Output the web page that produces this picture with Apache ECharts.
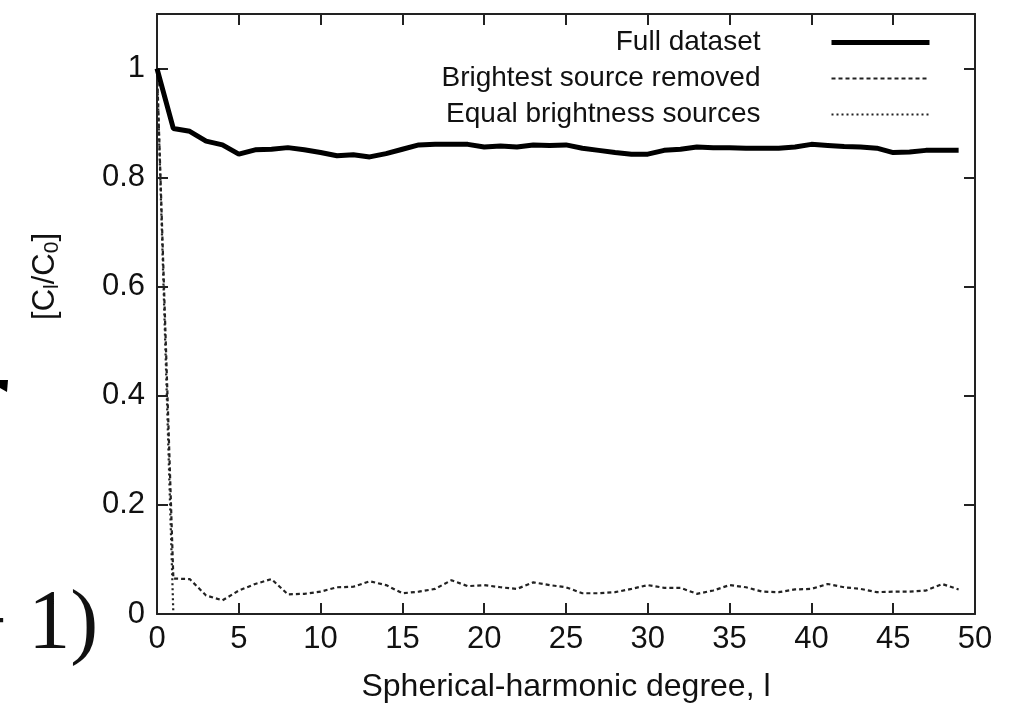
<!DOCTYPE html>
<html>
<head>
<meta charset="utf-8">
<script src="https://cdn.jsdelivr.net/npm/echarts@6/dist/echarts.min.js"></script>
<style>
html,body{margin:0;padding:0;background:#fff;}
#c{width:1019px;height:708px;}
</style>
</head>
<body>
<div id="c"></div>
<script>
var degrees = [0,1,2,3,4,5,6,7,8,9,10,11,12,13,14,15,16,17,18,19,20,21,22,23,24,25,26,27,28,29,30,31,32,33,34,35,36,37,38,39,40,41,42,43,44,45,46,47,48,49];
var fullDataset = [1.0,0.89,0.885,0.867,0.86,0.843,0.851,0.852,0.855,0.851,0.846,0.84,0.842,0.838,0.844,0.852,0.86,0.861,0.861,0.861,0.856,0.858,0.856,0.86,0.859,0.86,0.854,0.85,0.846,0.843,0.843,0.85,0.852,0.856,0.855,0.855,0.854,0.854,0.854,0.856,0.861,0.859,0.857,0.856,0.854,0.846,0.847,0.85,0.85,0.85];
var brightestRemoved = [1.0,0.065,0.064,0.034,0.025,0.043,0.055,0.064,0.036,0.037,0.041,0.049,0.05,0.06,0.053,0.038,0.041,0.046,0.062,0.051,0.053,0.049,0.046,0.058,0.053,0.049,0.038,0.038,0.04,0.046,0.053,0.048,0.048,0.037,0.043,0.053,0.049,0.041,0.04,0.045,0.046,0.055,0.049,0.046,0.04,0.041,0.041,0.043,0.055,0.045];
var equalBrightness = [1.0,0,0,0,0,0,0,0,0,0,0,0,0,0,0,0,0,0,0,0,0,0,0,0,0,0,0,0,0,0,0,0,0,0,0,0,0,0,0,0,0,0,0,0,0,0,0,0,0,0];
var seriesNames = ['Full dataset','Brightest source removed','Equal brightness sources'];
var xTitle = 'Spherical-harmonic degree, l';

function pairs(ys){ return degrees.map(function(d,i){ return [d, ys[i]]; }); }

var FONT = '"Liberation Sans", Arial, Helvetica, sans-serif';
function axisCommon(extra){
  return Object.assign({
    axisLine:{show:true,onZero:false,lineStyle:{color:'#222',width:2}},
    axisTick:{show:true,inside:true,length:11,lineStyle:{color:'#222',width:2}},
    splitLine:{show:false}
  }, extra);
}

var chart = echarts.init(document.getElementById('c'), null, {renderer:'canvas'});
chart.setOption({
  backgroundColor:'#fff',
  animation:false,
  grid:{left:157,right:44,top:14,bottom:91,containLabel:false},
  legend:{
    orient:'vertical', right:82, top:22, align:'right',
    itemWidth:98, itemHeight:12, itemGap:5,
    itemStyle:{opacity:0},
    textStyle:{fontFamily:FONT,fontSize:28,color:'#111',padding:[0,66,0,0],lineHeight:31},
    data:[
      {name:seriesNames[0],lineStyle:{width:5,color:'#000'}},
      {name:seriesNames[1]},
      {name:seriesNames[2]}
    ]
  },
  xAxis:[
    axisCommon({type:'value',min:0,max:50,interval:5,position:'bottom',
      name:xTitle,nameLocation:'middle',nameGap:57,
      nameTextStyle:{fontFamily:FONT,fontSize:32,color:'#111'},
      axisLabel:{fontFamily:FONT,fontSize:31,color:'#111',margin:10}
    }),
    axisCommon({type:'value',min:0,max:50,interval:5,position:'top',axisLabel:{show:false}})
  ],
  yAxis:[
    axisCommon({type:'value',min:0,max:1.1,interval:0.2,position:'left',
      axisLabel:{fontFamily:FONT,fontSize:31,color:'#111',margin:12,showMaxLabel:false}
    }),
    axisCommon({type:'value',min:0,max:1.1,interval:0.2,position:'right',axisLabel:{show:false}})
  ],
  series:[
    {name:seriesNames[0],type:'line',data:pairs(fullDataset),symbol:'none',
     lineStyle:{color:'#000',width:5},itemStyle:{color:'#000'},z:5},
    {name:seriesNames[1],type:'line',data:pairs(brightestRemoved),symbol:'none',
     lineStyle:{color:'#222',width:2.2,type:[4,3]},itemStyle:{color:'#222'},z:4},
    {name:seriesNames[2],type:'line',data:pairs(equalBrightness),symbol:'none',
     lineStyle:{color:'#222',width:2.2,type:[2,3]},itemStyle:{color:'#222'},z:3}
  ],
  graphic:[
    {type:'text',left:30,top:233,rotation:Math.PI/2,
     style:{text:'[C{s|l}/C{s|0}]',font:'31px '+FONT,fill:'#111',
       rich:{s:{fontSize:21,fontFamily:FONT,verticalAlign:'bottom',padding:[13,0,0,0]}}}},
    {type:'text',left:-40,top:584,
     style:{text:'\u2212 1)',font:'84px "Liberation Serif", "DejaVu Serif", serif',fill:'#111'}},
    {type:'polygon',shape:{points:[[0,380],[8,380],[7,392],[0,388]]},style:{fill:'#000'}}
  ]
});
</script>
</body>
</html>
